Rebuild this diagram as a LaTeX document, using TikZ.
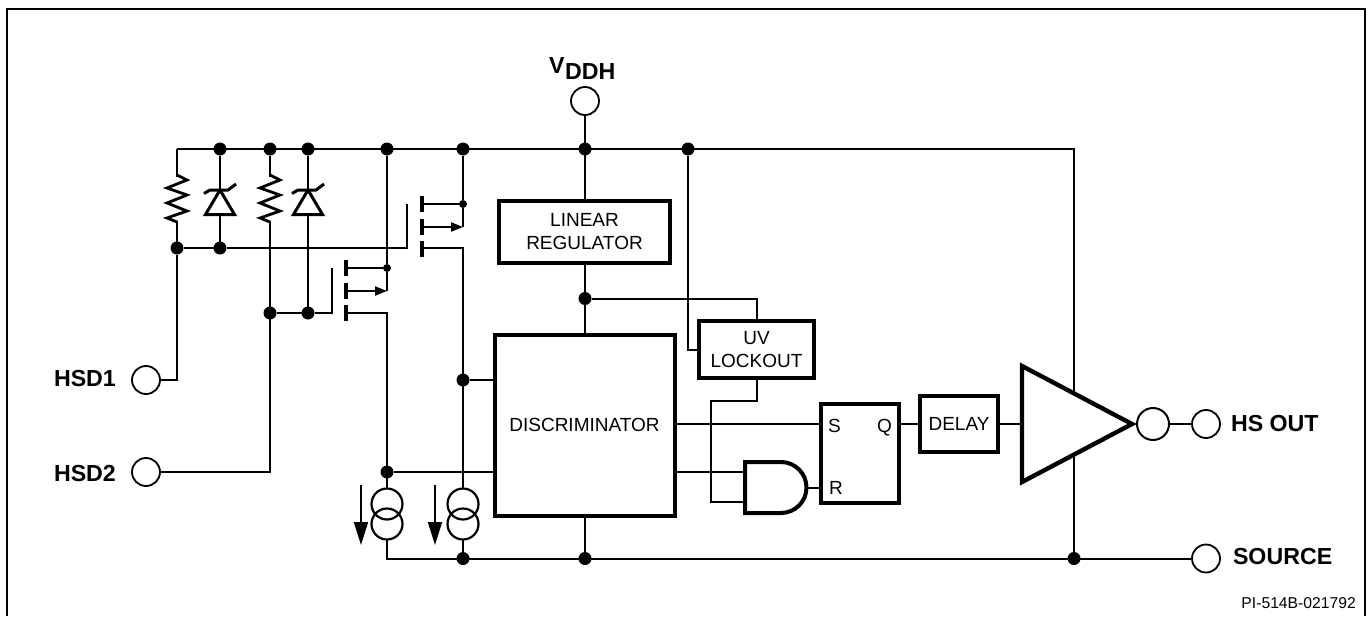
\documentclass[tikz,border=0pt]{standalone}
\usepackage{fontspec}
\setmainfont{Liberation Sans}
\usetikzlibrary{arrows.meta}
\tikzset{
  wire/.style={line width=2pt,line join=miter},
  jdot/.style={circle,fill=black,inner sep=0pt,minimum size=13pt,outer sep=0pt},
  sdot/.style={circle,fill=black,inner sep=0pt,minimum size=8pt,outer sep=0pt},
  term/.style={circle,draw=black,fill=white,line width=1.8pt,inner sep=0pt,minimum size=28pt,outer sep=0pt},
  srccirc/.style={circle,draw=black,line width=2.2pt,inner sep=0pt,minimum size=31pt,outer sep=0pt},
  blockbox/.style={draw=black,fill=white,line width=4pt,inner sep=0pt,outer sep=0pt,align=center,font=\fontsize{19}{23}\selectfont},
  lbl/.style={inner sep=0pt,outer sep=0pt,anchor=base west,font=\fontsize{19}{23}\selectfont},
  blbl/.style={inner sep=0pt,outer sep=0pt,anchor=base west,font=\fontsize{23.2}{26}\selectfont\bfseries},
  zenerpic/.pic={
    \draw[line width=3pt,fill=white,miter limit=10] (0,0) -- (-14.5,24.5) -- (14.5,24.5) -- cycle;
    \draw[line width=3pt,line join=round] (-16,3.5) -- (-10,0) -- (8,0) -- (16,-6);
  },
  respic/.pic={
    \draw[line width=2.8pt,fill=none,line join=miter] (0,0) -- (10,5) -- (-10,13) -- (10,20) -- (-10,28) -- (10,36) -- (-10,43) -- (0,47);
  },
  fetbars/.pic={
    \draw[line width=3.4pt] (0,-8) -- (0,8) (0,15) -- (0,31) (0,37) -- (0,53);
  },
}
\begin{document}
\begin{tikzpicture}[x=1pt,y=-1pt]
\useasboundingbox (0,0) rectangle (1368,616);
% frame
\coordinate (fa) at (7,616); \coordinate (fb) at (7,9);
\coordinate (fc) at (1365,9); \coordinate (fd) at (1365,616);
\draw[line width=2.6pt] (fa) -- (fb) -- (fc) -- (fd);

% terminals
\node[term] (vddh) at (585,101) {};
\node[term] (hsd1) at (146,380) {};
\node[term] (hsd2) at (146,472) {};
\node[term] (hsout) at (1206,424) {};
\node[term] (source) at (1206,558.5) {};

% junctions
\coordinate (railL) at (177,149);
\coordinate (railR) at (1074,149);
\node[jdot] (r1) at (220,149) {};
\node[jdot] (r2) at (270,149) {};
\node[jdot] (r3) at (308,149) {};
\node[jdot] (r4) at (387,149) {};
\node[jdot] (r5) at (463,149) {};
\node[jdot] (r6) at (585,149) {};
\node[jdot] (r7) at (688,149) {};
\node[jdot] (g1a) at (177,248) {};
\node[jdot] (g1b) at (220,248) {};
\node[jdot] (g2a) at (270,313) {};
\node[jdot] (g2b) at (308,313) {};
\node[jdot] (d1) at (463,380) {};
\node[jdot] (d2) at (387,472) {};
\node[jdot] (b1) at (463,558.5) {};
\node[jdot] (b2) at (585,558.5) {};
\node[jdot] (b3) at (1074,558.5) {};
\node[jdot] (lr) at (585,298.5) {};
\node[sdot] (m1d) at (463,204) {};
\node[sdot] (m2d) at (387,268) {};

% blocks
\node[blockbox,minimum width=171pt,minimum height=62pt] (linreg) at (584.5,232) {LINEAR\\REGULATOR};
\node[blockbox,minimum width=180pt,minimum height=181pt] (disc) at (584.5,425.5) {\raisebox{1.5pt}{DISCRIMINATOR}};
\node[blockbox,line width=3.6pt,minimum width=115pt,minimum height=57pt] (uv) at (756.5,349.5) {UV\\LOCKOUT};
\node[blockbox,line width=3.6pt,minimum width=78pt,minimum height=99pt] (sr) at (860,453.5) {};
\node[blockbox,line width=3.6pt,minimum width=78pt,minimum height=56pt] (delay) at (959,424) {DELAY};
\node[lbl] (sS) at (828,432) {S};
\node[lbl] (sQ) at (877,432) {Q};
\node[lbl] (sR) at (829,494) {R};

% current sources
\node[srccirc] (c1a) at (387,504) {};
\node[srccirc] (c1b) at (387,524) {};
\node[srccirc] (c2a) at (463,504) {};
\node[srccirc] (c2b) at (463,524) {};

% wire helpers
\coordinate (m1g) at (407,248); \coordinate (m1gt) at (407,204);
\coordinate (m1s) at (422,227); \coordinate (m1sc) at (463,227);
\coordinate (m1dl) at (422,204);
\coordinate (m1b) at (422,248); \coordinate (m1bc) at (463,248);
\coordinate (m2g) at (332,313); \coordinate (m2gt) at (332,268);
\coordinate (m2s) at (346,291); \coordinate (m2sc) at (387,291);
\coordinate (m2dl) at (346,268);
\coordinate (m2b) at (346,313); \coordinate (m2bc) at (387,313);
\coordinate (andA) at (745,472); \coordinate (andB) at (745,502);
\coordinate (andO) at (806,488);
\coordinate (uv1) at (711,401);
\coordinate (uv2) at (711,502);
\coordinate (uvT) at (757,298.5);
\coordinate (uvL) at (688,350);
\coordinate (triI) at (1022,424);
\coordinate (triA) at (1132,424);
\coordinate (tri1) at (1022,366);
\coordinate (tri2) at (1022,482);
\coordinate (bL) at (387,558.5);

% wires
\draw[wire] (railL) -- (railR) -- (b3);
\draw[wire] (railL) -- (g1a);
\draw[wire] (g1a) |- (hsd1);
\draw[wire] (r1) -- (g1b);
\draw[wire] (r2) -- (hsd2 -| r2) -- (hsd2);
\draw[wire] (r3) -- (g2b);
\draw[wire] (g1a) -- (g1b) -- (m1g) -- (m1gt);
\draw[wire] (g2a) -- (g2b) -- (m2g) -- (m2gt);
\draw[wire] (r4) -- (m2d);
\draw[wire] (r5) -- (m1d);
\draw[wire] (m1dl) -- (m1d) -- (m1sc);
\draw[wire,-{Triangle[length=12pt,width=9pt]}] (m1s) -- (m1sc);
\draw[wire] (m2dl) -- (m2d) -- (m2sc);
\draw[wire,-{Triangle[length=12pt,width=9pt]}] (m2s) -- (m2sc);
\draw[wire] (m1b) -- (m1bc) -- (c2a);
\draw[wire] (m2b) -- (m2bc) -- (c1a);
\draw[wire] (d1) -- (d1 -| disc.west);
\draw[wire] (d2) -- (d2 -| disc.west);
\draw[wire] (c1b) -- (bL) -- (source);
\draw[wire] (c2b) -- (b1);
\draw[wire] (vddh) -- (r6 |- linreg.north);
\draw[wire] (r6 |- linreg.south) -- (r6 |- disc.north);
\draw[wire] (r6 |- disc.south) -- (b2);
\draw[wire] (lr) -- (uvT) -- (uvT |- uv.north);
\draw[wire] (r7) -- (uvL) -- (uvL -| uv.west);
\draw[wire] (uvT |- uv.south) -- (uvT |- uv1) -- (uv1) -- (uv2) -- (andB);
\draw[wire] (disc.east |- delay) -- (sr.west |- delay);
\draw[wire] (disc.east |- andA) -- (andA);
\draw[wire] (andO) -- (andO -| sr.west);
\draw[wire] (sr.east |- delay) -- (delay);
\draw[wire] (delay) -- (triI);

% symbols
\pic at (220,190) {zenerpic};
\pic at (308,190) {zenerpic};
\draw[white,line width=3pt] (177,177) -- (177,221);
\draw[white,line width=3pt] (270,177) -- (270,221);
\pic at (177,175) {respic};
\pic at (270,175) {respic};
\pic at (422,204) {fetbars};
\pic at (346,268) {fetbars};

% AND gate
\draw[line width=4pt,fill=white,line join=miter] (745,462) -- (781,462) .. controls (795,462) and (806.5,473.4) .. (806.5,487.5) .. controls (806.5,501.6) and (795,513) .. (781,513) -- (745,513) -- cycle;
% driver
\draw[line width=4.4pt,fill=white,line join=miter,miter limit=10] (tri1) -- (triA) -- (tri2) -- cycle;
\node[term,minimum size=32pt,line width=2pt] (bubble) at (1153,424) {};
\draw[wire] (bubble) -- (hsout);

% current arrows
\coordinate (a1s) at (361,485); \coordinate (a1e) at (361,545);
\coordinate (a2s) at (435,485); \coordinate (a2e) at (435,545);
\draw[wire,-{Triangle[length=23pt,width=14pt]}] (a1s) -- (a1e);
\draw[wire,-{Triangle[length=23pt,width=14pt]}] (a2s) -- (a2e);

% labels
\node[blbl] (lvv) at (549,73) {V};
\node[blbl] (lvd) at (565,79) {DDH};
\node[blbl] (lh1) at (54,386) {HSD1};
\node[blbl] (lh2) at (54,481) {HSD2};
\node[blbl] (lhs) at (1231,431) {HS OUT};
\node[blbl] (lso) at (1233,564) {SOURCE};
\node[inner sep=0pt,anchor=base east,font=\fontsize{15.7}{18}\selectfont] (pi) at (1356,608) {PI-514B-021792};
\end{tikzpicture}
\end{document}
